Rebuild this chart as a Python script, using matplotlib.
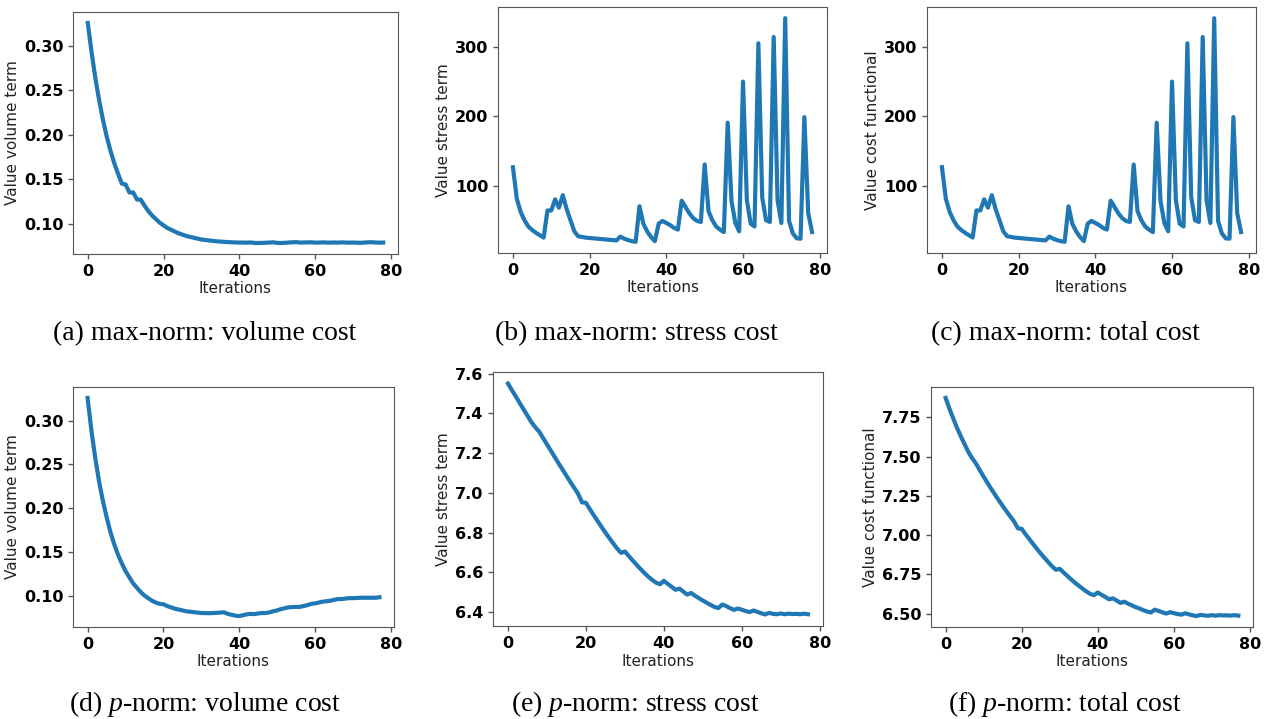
import numpy as np
import matplotlib
matplotlib.use('Agg')
import matplotlib.pyplot as plt
from matplotlib.ticker import MultipleLocator

# max-norm runs: iterations 0..78
vol_max = [0.326, 0.293, 0.264, 0.239, 0.217, 0.198, 0.182, 0.168, 0.156, 0.145,
           0.144, 0.135, 0.135, 0.127, 0.127, 0.120, 0.114, 0.109, 0.105, 0.101,
           0.098, 0.095, 0.093, 0.091, 0.089, 0.0875, 0.086, 0.085, 0.084, 0.083,
           0.082, 0.0815, 0.081, 0.0805, 0.080, 0.0797, 0.0794, 0.0791, 0.0789, 0.0787,
           0.0786, 0.0786, 0.0785, 0.0787, 0.0782, 0.0781, 0.0782, 0.0784, 0.0786, 0.0789,
           0.0782, 0.0781, 0.0783, 0.0786, 0.0789, 0.0791, 0.0786, 0.0787, 0.0788, 0.0789,
           0.0785, 0.0786, 0.0788, 0.0786, 0.0785, 0.0787, 0.0785, 0.0788, 0.0786, 0.0785,
           0.0786, 0.0784, 0.0783, 0.0786, 0.0789, 0.0790, 0.0786, 0.0785, 0.0786]
stress_max = [127, 82, 63, 51, 42, 37, 33, 29.5, 26,
              65, 65, 81, 69, 87, 67, 51, 35, 28,
              27, 26, 25.5, 25, 24.5, 24, 23.5, 23, 22.5, 22,
              27.5, 24.5, 22.5, 21, 20,
              71, 46, 35, 27, 21,
              46, 50, 47, 44, 40, 37.5,
              79, 70, 61, 54, 50, 48.5,
              131, 64, 51, 42, 37.5, 34,
              191, 78.5, 47, 35,
              250, 80, 46, 42,
              305, 84, 51, 48.5,
              314, 80, 47,
              341, 50, 32, 25, 24.5,
              199, 61, 34]
total_max = [127.3, 82.3, 63.3, 51.2, 42.2, 37.2, 33.2, 29.7, 26.2,
             65.1, 65.1, 81.1, 69.1, 87.1, 67.1, 51.1, 35.1, 28.1,
             27.1, 26.1, 25.6, 25.1, 24.6, 24.1, 23.6, 23.1, 22.6, 22.1,
             27.6, 24.6, 22.6, 21.1, 20.1,
             71.1, 46.1, 35.1, 27.1, 21.1,
             46.1, 50.1, 47.1, 44.1, 40.1, 37.6,
             79.1, 70.1, 61.1, 54.1, 50.1, 48.6,
             131.1, 64.1, 51.1, 42.1, 37.6, 34.1,
             191.1, 78.6, 47.1, 35.1,
             250.1, 80.1, 46.1, 42.1,
             305.1, 84.1, 51.1, 48.6,
             314.1, 80.1, 47.1,
             341.1, 50.1, 32.1, 25.1, 24.6,
             199.1, 61.1, 34.1]

# p-norm runs: iterations 0..77
vol_p = [0.326, 0.289, 0.258, 0.231, 0.209, 0.190, 0.173, 0.159, 0.147, 0.137,
         0.128, 0.121, 0.114, 0.109, 0.104, 0.100, 0.097, 0.094, 0.092, 0.0905,
         0.0900, 0.088, 0.0865, 0.085, 0.084, 0.083, 0.082, 0.0815, 0.081, 0.0805,
         0.080, 0.080, 0.0798, 0.080, 0.0802, 0.0805, 0.0808, 0.079, 0.078, 0.077,
         0.0765, 0.0775, 0.0785, 0.079, 0.0788, 0.0795, 0.080, 0.080, 0.0808, 0.082,
         0.083, 0.0845, 0.0855, 0.0865, 0.0868, 0.087, 0.087, 0.088, 0.089, 0.0905,
         0.091, 0.092, 0.093, 0.0935, 0.094, 0.095, 0.096, 0.096, 0.0965, 0.097,
         0.097, 0.0972, 0.0975, 0.0975, 0.0975, 0.0975, 0.0975, 0.098]
stress_p = [7.550, 7.517, 7.485, 7.452, 7.420, 7.388, 7.356, 7.330, 7.308, 7.276,
            7.244, 7.212, 7.180, 7.148, 7.117, 7.086, 7.055, 7.025, 6.995, 6.952,
            6.950, 6.918, 6.888, 6.858, 6.829, 6.800, 6.773, 6.746, 6.720, 6.698,
            6.705, 6.682, 6.660, 6.638, 6.617, 6.597, 6.578, 6.562, 6.548, 6.540,
            6.557, 6.542, 6.527, 6.512, 6.518, 6.503, 6.488, 6.496, 6.482, 6.470,
            6.458, 6.447, 6.436, 6.426, 6.420, 6.438, 6.430, 6.420, 6.411, 6.418,
            6.412, 6.405, 6.400, 6.408, 6.401, 6.394, 6.388, 6.396, 6.391, 6.389,
            6.393, 6.389, 6.392, 6.390, 6.391, 6.389, 6.392, 6.389]
total_p = [7.874, 7.806, 7.743, 7.683, 7.629, 7.578, 7.529, 7.489, 7.455, 7.413,
           7.372, 7.333, 7.294, 7.257, 7.221, 7.186, 7.152, 7.119, 7.087, 7.043,
           7.040, 7.006, 6.975, 6.943, 6.913, 6.883, 6.855, 6.828, 6.801, 6.779,
           6.785, 6.762, 6.740, 6.718, 6.697, 6.678, 6.659, 6.641, 6.626, 6.617,
           6.634, 6.620, 6.606, 6.591, 6.597, 6.583, 6.568, 6.576, 6.563, 6.552,
           6.541, 6.532, 6.522, 6.513, 6.507, 6.525, 6.517, 6.508, 6.500, 6.509,
           6.503, 6.497, 6.493, 6.502, 6.495, 6.489, 6.484, 6.492, 6.488, 6.486,
           6.490, 6.486, 6.490, 6.488, 6.489, 6.487, 6.490, 6.487]

ylabels = ['Value volume term', 'Value stress term', 'Value cost functional']
captions_top = ['(a) max-norm: volume cost', '(b) max-norm: stress cost', '(c) max-norm: total cost']
captions_bot = ['(d) $p$-norm: volume cost', '(e) $p$-norm: stress cost', '(f) $p$-norm: total cost']

plt.rcParams['mathtext.fontset'] = 'custom'
plt.rcParams['mathtext.rm'] = 'Liberation Serif'
plt.rcParams['mathtext.it'] = 'Liberation Serif:italic'

fig = plt.figure(figsize=(12.67, 7.19), dpi=100)

W, H = 1267.0, 719.0
# axes boxes in pixels: left, top, right, bottom
boxes = [(73, 12, 398, 254), (498, 7, 827, 253), (927, 7, 1256, 253),
         (73, 387, 394, 627), (493, 372, 823, 626), (931, 387, 1253, 627)]
series = [vol_max, stress_max, total_max, vol_p, stress_p, total_p]
steps = [0.05, 100, 100, 0.05, 0.2, 0.25]
fmts = ['%.2f', '%d', '%d', '%.2f', '%.1f', '%.2f']

for k in range(6):
    l, t, r, b = boxes[k]
    ax = fig.add_axes([l / W, 1 - b / H, (r - l) / W, (b - t) / H])
    y = series[k]
    ax.plot(np.arange(len(y)), y, color='#1f77b4', lw=3)
    ax.set_xticks([0, 20, 40, 60, 80])
    ax.yaxis.set_major_locator(MultipleLocator(steps[k]))
    ax.yaxis.set_major_formatter(matplotlib.ticker.FormatStrFormatter(fmts[k]))
    for lab in ax.get_xticklabels() + ax.get_yticklabels():
        lab.set_fontweight('bold')
    ax.tick_params(labelsize=11.5, color='#555555', width=1)
    for sp in ax.spines.values():
        sp.set_color('#555555')
    ax.set_xlabel('Iterations', fontsize=11, color='#222222', labelpad=2)
    ax.set_ylabel(ylabels[k % 3], fontsize=11, color='#222222', labelpad=3)

cx = [205, 636, 1065]
for j in range(3):
    fig.text(cx[j] / W, 1 - 340 / H, captions_top[j], ha='center', va='baseline',
             family='Liberation Serif', fontsize=20)
    fig.text(cx[j] / W, 1 - 711 / H, captions_bot[j], ha='center', va='baseline',
             family='Liberation Serif', fontsize=20)

fig.savefig('out.png', dpi=100)
